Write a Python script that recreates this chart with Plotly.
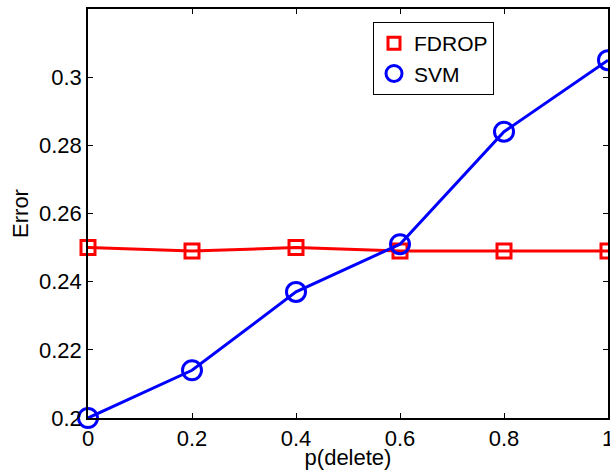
import plotly.graph_objects as go

p_delete = [0, 0.2, 0.4, 0.6, 0.8, 1.0]
fdrop = [0.250, 0.249, 0.250, 0.249, 0.249, 0.249]
svm = [0.200, 0.214, 0.237, 0.251, 0.284, 0.305]
x_ticks = [0, 0.2, 0.4, 0.6, 0.8, 1]
x_tick_labels = ["0", "0.2", "0.4", "0.6", "0.8", "1"]
y_ticks = [0.2, 0.22, 0.24, 0.26, 0.28, 0.3]
y_tick_labels = ["0.2", "0.22", "0.24", "0.26", "0.28", "0.3"]

RED = "#ff0000"
BLUE = "#0000ff"
FONT = "Liberation Sans, Arial, Helvetica, sans-serif"

fig = go.Figure()
fig.add_trace(go.Scatter(
    x=p_delete, y=fdrop, mode="lines+markers", name="FDROP", showlegend=False,
    line=dict(color=RED, width=3),
    marker=dict(symbol="square-open", size=14, color=RED, line=dict(width=3, color=RED)),
    cliponaxis=False))
fig.add_trace(go.Scatter(
    x=p_delete, y=svm, mode="lines+markers", name="SVM", showlegend=False,
    line=dict(color=BLUE, width=3),
    marker=dict(symbol="circle-open", size=19, color=BLUE, line=dict(width=3, color=BLUE)),
    cliponaxis=False))
# legend entries (marker only, as in the reference)
fig.add_trace(go.Scatter(
    x=[None], y=[None], mode="markers", name="FDROP",
    marker=dict(symbol="square-open", size=12, color=RED, line=dict(width=3, color=RED))))
fig.add_trace(go.Scatter(
    x=[None], y=[None], mode="markers", name="SVM",
    marker=dict(symbol="circle-open", size=16, color=BLUE, line=dict(width=3, color=BLUE))))

axis_common = dict(
    showgrid=False, zeroline=False, showline=True, linecolor="black", linewidth=1.5,
    mirror="ticks", ticks="inside", ticklen=5, tickwidth=1, tickcolor="black",
    tickfont=dict(family=FONT, size=22, color="black"),
    ticklabeloverflow="allow", automargin=False,
)

fig.update_layout(
    width=610, height=470,
    margin=dict(l=88, r=2, t=9, b=52),
    paper_bgcolor="white", plot_bgcolor="white",
    font=dict(family=FONT, size=22, color="black"),
    xaxis=dict(range=[0, 1], tickvals=x_ticks, ticktext=x_tick_labels,
               title=dict(text="p(delete)", font=dict(family=FONT, size=22), standoff=0),
               **axis_common),
    yaxis=dict(range=[0.2, 0.32], tickvals=y_ticks, ticktext=y_tick_labels,
               title=dict(text="Error", font=dict(family=FONT, size=22), standoff=4),
               **axis_common),
    legend=dict(x=(373 - 88) / 520, y=(418 - 22) / 409, xanchor="left", yanchor="top",
                bordercolor="black", borderwidth=1, bgcolor="white",
                font=dict(family=FONT, size=21, color="black"),
                itemwidth=30, tracegroupgap=0),
    showlegend=True,
)

fig.write_html("out.html", config={"displayModeBar": False},
               post_script="document.body.style.margin='0';document.body.style.overflow='hidden';")
